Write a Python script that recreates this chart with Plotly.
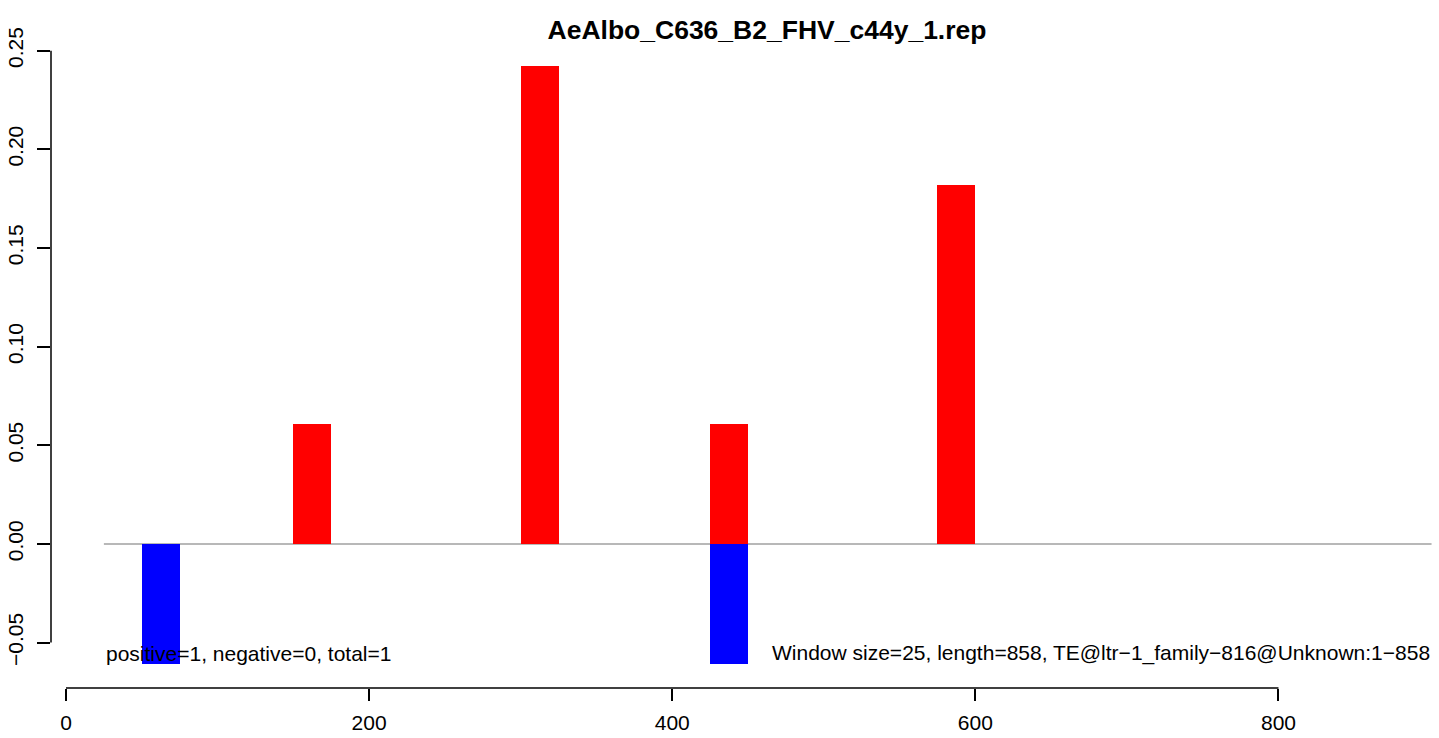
import plotly.graph_objects as go

# ---- data ----
title_text = "AeAlbo_C636_B2_FHV_c44y_1.rep"
window_size = 25
pos_starts = [150, 300, 425, 575]
pos_values = [0.0606, 0.2424, 0.0606, 0.1818]
neg_starts = [50, 425]
neg_values = [-0.0606, -0.0606]
x_ticks = [0, 200, 400, 600, 800]
x_tick_labels = ["0", "200", "400", "600", "800"]
y_ticks = [-0.05, 0.0, 0.05, 0.10, 0.15, 0.20, 0.25]
y_tick_labels = ["\u22120.05", "0.00", "0.05", "0.10", "0.15", "0.20", "0.25"]
region = [25, 901]          # plotting region (baseline span / text anchors)
x_range = [-9.9, 901.3]
y_range = [-0.0730, 0.2544]
left_note = "positive=1, negative=0, total=1"
right_note = "Window size=25, length=858, TE@ltr\u22121_family\u2212816@Unknown:1\u2212858"

FONT = "Liberation Sans, Arial, Helvetica, sans-serif"

pos_x = [s + window_size / 2 for s in pos_starts]
neg_x = [s + window_size / 2 for s in neg_starts]

fig = go.Figure()
fig.add_trace(go.Bar(x=pos_x, y=pos_values, width=window_size,
                     marker=dict(color="#ff0000", line=dict(width=0)),
                     showlegend=False, hoverinfo="x+y"))
fig.add_trace(go.Bar(x=neg_x, y=neg_values, width=window_size,
                     marker=dict(color="#0000ff", line=dict(width=0)),
                     showlegend=False, hoverinfo="x+y"))

shapes = [
    # baseline at zero
    dict(type="line", xref="x", yref="y", x0=region[0], x1=region[1], y0=0, y1=0,
         line=dict(color="#a0a0a0", width=1.5), layer="below"),
    # x axis line spanning ticks
    dict(type="line", xref="x", yref="paper", x0=x_ticks[0], x1=x_ticks[-1], y0=0, y1=0,
         line=dict(color="black", width=1.5)),
    # y axis line spanning ticks
    dict(type="line", xref="paper", yref="y", x0=0, x1=0, y0=y_ticks[0], y1=y_ticks[-1],
         line=dict(color="black", width=1.5)),
]

annotations = [
    dict(x=region[0], y=neg_values[0], xref="x", yref="y", text=left_note,
         showarrow=False, xanchor="left", yanchor="bottom", yshift=-3,
         font=dict(family=FONT, size=21, color="black")),
    dict(x=region[1], y=neg_values[0], xref="x", yref="y", text=right_note,
         showarrow=False, xanchor="right", yanchor="bottom", yshift=-3,
         font=dict(family=FONT, size=21, color="black")),
]

fig.update_layout(
    width=1439, height=738,
    margin=dict(l=51, r=7, t=42, b=50, pad=0, autoexpand=False),
    paper_bgcolor="white", plot_bgcolor="white",
    barmode="overlay",
    bargap=0,
    shapes=shapes,
    annotations=annotations,
    title=dict(text="<b>" + title_text + "</b>", xref="paper", x=(767 - 51) / (1432 - 51),
               xanchor="center", yref="container", y=1 - 30 / 738, yanchor="middle",
               font=dict(family=FONT, size=26.5, color="black")),
    xaxis=dict(range=x_range, tickvals=x_ticks, ticktext=x_tick_labels,
               ticks="outside", ticklen=12, tickwidth=1.5, tickcolor="black",
               showline=False, showgrid=False, zeroline=False, automargin=False,
               ticklabelstandoff=4,
               tickfont=dict(family=FONT, size=21, color="black")),
    yaxis=dict(range=y_range, tickvals=y_ticks, ticktext=y_tick_labels,
               ticks="outside", ticklen=13, tickwidth=1.5, tickcolor="black",
               tickangle=-90,
               showline=False, showgrid=False, zeroline=False, automargin=False,
               ticklabelstandoff=6,
               tickfont=dict(family=FONT, size=21, color="black")),
)

fig.write_html("out.html",
               config={"displayModeBar": False},
               post_script="document.body.style.margin='0';document.body.style.overflow='hidden';")
